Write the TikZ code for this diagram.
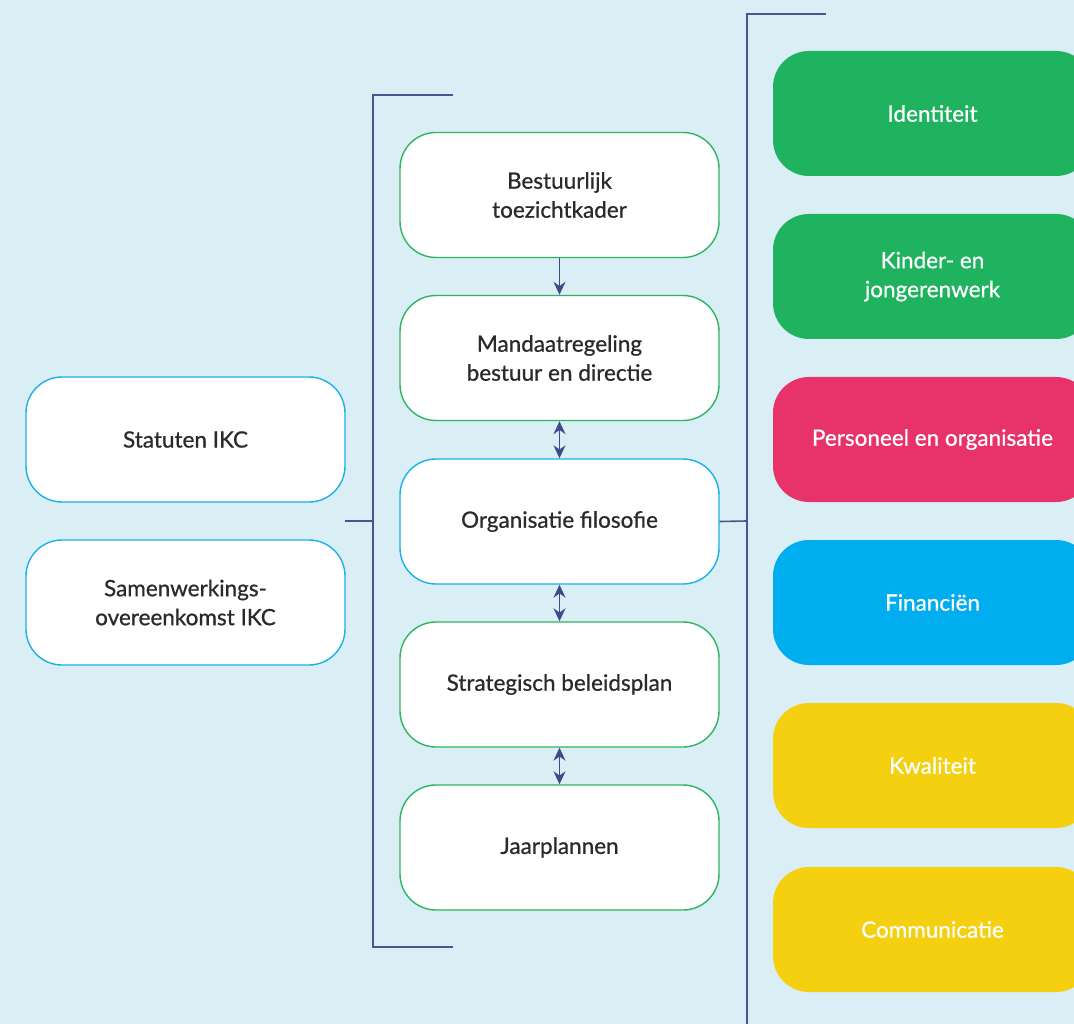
\documentclass[tikz,border=0pt]{standalone}
\usepackage{fontspec}
\setmainfont{Lato}
\newfontfamily\medfont{Lato}[FakeBold=0.7]
\usetikzlibrary{arrows.meta}
\definecolor{bg}{HTML}{D9EEF5}
\definecolor{gborder}{HTML}{2DB563}
\definecolor{bborder}{HTML}{1AB0E8}
\definecolor{linecol}{HTML}{4A5590}
\definecolor{arrowcol}{HTML}{3F4A8A}
\definecolor{fgreen}{HTML}{1FB25F}
\definecolor{fpink}{HTML}{E8336A}
\definecolor{fblue}{HTML}{00AEEF}
\definecolor{fyellow}{HTML}{F5D010}
\definecolor{txt}{HTML}{2A2A2A}
\tikzset{
  box/.style={rounded corners=36pt, minimum width=319pt, minimum height=125pt, inner sep=0pt, align=center, font=\medfont\fontsize{22.5}{29}\selectfont, text=txt, fill=white, line width=1.4pt},
  gbox/.style={box, draw=gborder},
  bbox/.style={box, draw=bborder},
  cbox/.style={rounded corners=36pt, minimum width=319pt, minimum height=125pt, inner sep=0pt, align=center, font=\medfont\fontsize{22.5}{29}\selectfont, text=white, draw=none},
  bracket/.style={draw=linecol, line width=1.6pt},
  conn/.style={draw=arrowcol, line width=1.3pt, -{Stealth[length=13pt,width=12pt]}},
  dconn/.style={draw=arrowcol, line width=1.3pt, {Stealth[length=13pt,width=12pt]}-{Stealth[length=13pt,width=12pt]}}
}
\begin{document}
\begin{tikzpicture}[x=1pt,y=-1pt]
\useasboundingbox (0,0) rectangle (1074,1024);
\clip (0,0) rectangle (1074,1024);
\fill[bg] (0,0) rectangle (1074,1024);
% brackets
\coordinate (lt) at (453,95);
\coordinate (lb) at (453,947);
\draw[bracket] (lt) -- (373,95) -- (373,947) -- (lb);
\coordinate (rt) at (826,14);
\coordinate (rb) at (747,1030);
\draw[bracket] (rt) -- (747,14) -- (rb);
\coordinate (ltick) at (345,521);
\coordinate (lj) at (373,521);
\draw[bracket] (ltick) -- (lj);
\coordinate (rj) at (747,521);
% middle column
\node[gbox] (m1) at (559.5,195) {Bestuurlijk\\toezichtkader};
\node[gbox] (m2) at (559.5,358) {Mandaatregeling\\bestuur en directie};
\node[bbox] (m3) at (559.5,521.5) {Organisatie filosofie};
\node[gbox] (m4) at (559.5,684.5) {Strategisch beleidsplan};
\node[gbox] (m5) at (559.5,847.5) {Jaarplannen};
\draw[bracket] (m3.east) -- (rj);
% left column
\node[bbox] (l1) at (185.5,439.5) {Statuten IKC};
\node[bbox] (l2) at (185.5,602.5) {Samenwerkings-\\overeenkomst IKC};
% right column
\node[cbox, fill=fgreen] (r1) at (932.5,113.5) {Identiteit};
\node[cbox, fill=fgreen] (r2) at (932.5,276.5) {Kinder- en\\jongerenwerk};
\node[cbox, fill=fpink] (r3) at (932.5,439.5) {Personeel en organisatie};
\node[cbox, fill=fblue] (r4) at (932.5,602.5) {Financiën};
\node[cbox, fill=fyellow] (r5) at (932.5,765.5) {Kwaliteit};
\node[cbox, fill=fyellow] (r6) at (932.5,929.5) {Communicatie};
% arrows
\draw[conn] (m1.south) -- (m2.north);
\draw[dconn] (m2.south) -- (m3.north);
\draw[dconn] (m3.south) -- (m4.north);
\draw[dconn] (m4.south) -- (m5.north);
\end{tikzpicture}
\end{document}
